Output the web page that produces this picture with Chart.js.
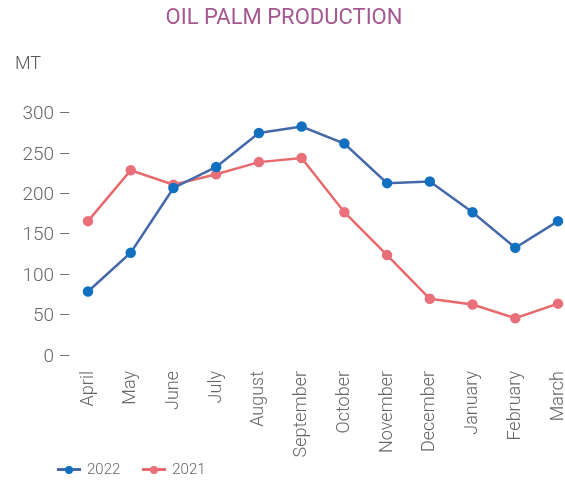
<!DOCTYPE html>
<html>
<head>
<meta charset="utf-8">
<script src="https://cdn.jsdelivr.net/npm/chart.js@4/dist/chart.umd.min.js"></script>
<style>
  body { margin: 0; background: #fff; }
  #wrap { position: relative; width: 565px; height: 482px; font-family: Roboto, sans-serif; }
  #unit { position: absolute; left: 15px; top: 52px; font-size: 18px; font-weight: 300; color: #555; }
  #legend { position: absolute; left: 57px; top: 460px; display: flex; font-size: 15px; font-weight: 300; color: #666; }
  .item { display: flex; align-items: center; margin-right: 22px; }
  .mark { position: relative; width: 24px; height: 18px; margin-right: 6px; }
  .mark .ln { position: absolute; left: 0; top: 8px; width: 24px; height: 3px; }
  .mark .dot { position: absolute; left: 8px; top: 6px; width: 8px; height: 8px; border-radius: 50%; }
</style>
</head>
<body>
<div id="wrap">
  <canvas id="myChart" width="565" height="482"></canvas>
  <div id="unit">MT</div>
  <div id="legend"></div>
</div>
<script>
// months of the crop year
var months = ["April", "May", "June", "July", "August", "September", "October",
  "November", "December", "January", "February", "March"];

var prod2022 = [81, 129, 209, 235, 277, 285, 264, 215, 217, 179, 135, 168];
var prod2021 = [168, 231, 213, 226, 241, 246, 179, 126, 72, 65, 48, 66];

var yTicks = [0, 50, 100, 150, 200, 250, 300];

var gray = "#666";
var labelFont = { family: "Roboto", size: 18, weight: 300 };

var data = {
  labels: months,
  datasets: [
    {
      label: "2022",
      data: prod2022,
      borderColor: "#4569a8",
      backgroundColor: "#1270c0",
      pointBackgroundColor: "#1270c0",
      pointBorderColor: "#1270c0",
      borderWidth: 2.5,
      pointRadius: 4,
      fill: false,
      tension: 0,
      clip: false
    },
    {
      label: "2021",
      data: prod2021,
      borderColor: "#e8696c",
      backgroundColor: "#e9707a",
      pointBackgroundColor: "#e9707a",
      pointBorderColor: "#e9707a",
      borderWidth: 2.5,
      pointRadius: 4,
      fill: false,
      tension: 0,
      clip: false
    }
  ]
};

var options = {
  responsive: false,
  animation: false,
  layout: { padding: { top: 0, left: 10, right: 7, bottom: 0 } },
  plugins: {
    legend: { display: false },
    tooltip: { enabled: false },
    title: {
      display: true,
      text: "OIL PALM PRODUCTION",
      color: "#a4588f",
      font: { family: "Roboto", size: 22, weight: 400 },
      padding: { top: 5, bottom: 83 }
    }
  },
  scales: {
    x: {
      grid: { display: false },
      border: { display: false },
      ticks: {
        color: gray,
        font: labelFont,
        minRotation: 90,
        maxRotation: 90,
        autoSkip: false,
        padding: 6
      },
      afterFit: function (scale) {
        scale.height = 125;
        scale.paddingLeft = 0;
        scale.paddingRight = 0;
      }
    },
    y: {
      min: 0,
      max: 300,
      grid: { display: false },
      border: { display: false },
      afterBuildTicks: function (scale) {
        scale.ticks = yTicks.map(function (v) { return { value: v }; });
      },
      ticks: {
        color: gray,
        font: { family: "Roboto", size: 19, weight: 300 },
        padding: 9,
        callback: function (v) { return v + " \u2013"; }
      },
      afterFit: function (scale) {
        scale.width = 78;
      }
    }
  }
};

var chart = new Chart(document.getElementById("myChart"), {
  type: "line",
  data: data,
  options: options
});

// legend under the axis, built from the datasets
var legend = document.getElementById("legend");
chart.data.datasets.forEach(function (ds) {
  var item = document.createElement("div");
  item.className = "item";
  item.innerHTML = '<span class="mark"><span class="ln" style="background:' + ds.borderColor +
    '"></span><span class="dot" style="background:' + ds.pointBackgroundColor +
    '"></span></span><span>' + ds.label + '</span>';
  legend.appendChild(item);
});
</script>
</body>
</html>
